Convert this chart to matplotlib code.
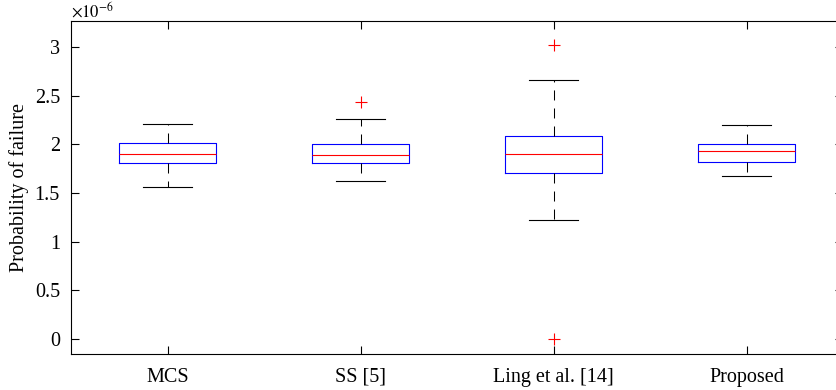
import matplotlib
matplotlib.use("Agg")
import matplotlib.pyplot as plt

plt.rcParams['font.family'] = ['Liberation Serif', 'DejaVu Serif']
plt.rcParams['mathtext.fontset'] = 'stix'

# box statistics (units of 1e-6)
methods = ['MCS', 'SS [5]', 'Ling et al. [14]', 'Proposed']
med = [1.90, 1.885, 1.90, 1.93]
q1 = [1.805, 1.81, 1.70, 1.82]
q3 = [2.01, 2.00, 2.09, 2.005]
whislo = [1.56, 1.62, 1.225, 1.67]
whishi = [2.21, 2.26, 2.665, 2.195]
fliers = [[], [2.43], [3.02, 0.0], []]

stats = []
for i in range(len(methods)):
    stats.append(dict(med=med[i], q1=q1[i], q3=q3[i],
                      whislo=whislo[i], whishi=whishi[i],
                      fliers=fliers[i], label=methods[i]))

fig = plt.figure(figsize=(8.36, 3.9), dpi=100)
ax = fig.add_axes([71/836, 36/390, 772/836, 333/390])

ax.bxp(stats, positions=[1, 2, 3, 4], widths=0.5, capwidths=0.25,
       boxprops=dict(color='blue', linewidth=0.8),
       medianprops=dict(color='red', linewidth=0.8),
       whiskerprops=dict(color='black', linewidth=0.75, linestyle=(0, (9.6, 7.7))),
       capprops=dict(color='black', linewidth=0.8),
       flierprops=dict(marker='+', markeredgecolor='red', markersize=9,
                       markeredgewidth=0.8, linestyle='none'))

ax.set_xlim(0.5, 4.5)
ax.set_ylim(-0.155, 3.267)
yt = [0, 0.5, 1, 1.5, 2, 2.5, 3]
ax.set_yticks(yt)
ax.set_yticklabels(['0', '0.5', '1', '1.5', '2', '2.5', '3'])
ax.set_xticks([1, 2, 3, 4])
ax.set_xticklabels(methods)
ax.tick_params(direction='in', length=5.7, width=0.8, labelsize=14.5,
               top=True, right=True, pad=8)
ax.tick_params(axis='x', pad=10)
ax.set_ylabel('Probability of failure', fontsize=14.5, labelpad=4)
for s in ax.spines.values():
    s.set_linewidth(0.8)

ax.text(0.0, 1.0, r'$\times10^{-6}$', transform=ax.transAxes,
        fontsize=12, ha='left', va='bottom')

fig.savefig('out.png', dpi=100)
